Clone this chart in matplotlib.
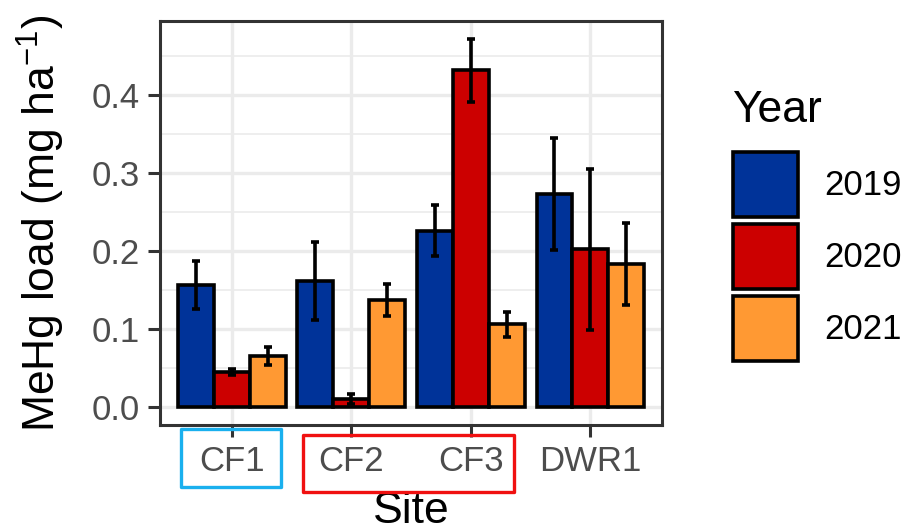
import matplotlib
matplotlib.use("Agg")
import matplotlib.pyplot as plt
import numpy as np
from matplotlib.patches import Patch, Rectangle

plt.rcParams['font.family'] = ['Liberation Sans', 'DejaVu Sans']
plt.rcParams['mathtext.fontset'] = 'custom'
plt.rcParams['mathtext.rm'] = 'Liberation Sans'
plt.rcParams['mathtext.it'] = 'Liberation Sans:italic'

sites = ['CF1', 'CF2', 'CF3', 'DWR1']
years = ['2019', '2020', '2021']
load_2019 = [0.156, 0.161, 0.226, 0.273]
load_2020 = [0.045, 0.010, 0.432, 0.202]
load_2021 = [0.065, 0.137, 0.106, 0.183]
se_2019 = [0.031, 0.050, 0.033, 0.072]
se_2020 = [0.004, 0.006, 0.041, 0.104]
se_2021 = [0.011, 0.021, 0.016, 0.053]
colors = ['#003399', '#CC0000', '#FF9933']

values = [load_2019, load_2020, load_2021]
errors = [se_2019, se_2020, se_2021]

fig = plt.figure(figsize=(9.14, 5.31), dpi=100)
ax = fig.add_axes([160/914, 1-425/531, 502/914, 404/531])

x = np.arange(1, len(sites)+1)
w = 0.3
for i, (vals, errs, c) in enumerate(zip(values, errors, colors)):
    pos = x + (i-1)*w
    ax.bar(pos, vals, width=w, color=c, edgecolor='black', linewidth=2.6, zorder=3)
    ax.errorbar(pos, vals, yerr=errs, fmt='none', ecolor='black', elinewidth=2.6,
                capsize=2.6, capthick=2.6, zorder=4)

ax.set_xlim(0.4, 4.6)
ax.set_ylim(-0.0236, 0.4956)
ax.set_xticks(x)
ax.set_xticklabels(sites)
ax.set_yticks([0.0, 0.1, 0.2, 0.3, 0.4])
ax.set_yticklabels(['0.0', '0.1', '0.2', '0.3', '0.4'])
ax.set_yticks([0.05, 0.15, 0.25, 0.35, 0.45], minor=True)
ax.grid(which='major', color='#EBEBEB', linewidth=2.4, zorder=0)
ax.grid(which='minor', axis='y', color='#EBEBEB', linewidth=1.2, zorder=0)
ax.set_axisbelow(True)
ax.tick_params(axis='both', which='major', length=8.5, width=2.2, color='#333333',
               labelcolor='#4D4D4D', labelsize=25, pad=6)
ax.tick_params(axis='y', which='minor', length=0)
for s in ax.spines.values():
    s.set_color('#333333')
    s.set_linewidth(2.2)

ax.set_xlabel('Site', fontsize=32, labelpad=9)
ax.set_ylabel('MeHg load (mg ha$^{-1}$)', fontsize=32, labelpad=18)

fig.text(732/914, 1-122/531, 'Year', fontsize=32, ha='left', va='baseline')
handles = [Patch(facecolor=c, edgecolor='black', linewidth=2.6) for c in colors]
leg = fig.legend(handles, years, loc='upper left', bbox_to_anchor=(733/914, 1-152/531),
                 frameon=False, fontsize=25,
                 handlelength=1.87, handleheight=2.5, labelspacing=0.2,
                 handletextpad=0.75, borderaxespad=0, borderpad=0)

# annotation boxes
fig.patches.append(Rectangle((181/914, 1-487/531), 100/914, 58/531, transform=fig.transFigure,
                             fill=False, edgecolor='#1AB0EE', linewidth=2.4, joinstyle='round'))
fig.patches.append(Rectangle((303/914, 1-492/531), 211/914, 57/531, transform=fig.transFigure,
                             fill=False, edgecolor='#F01010', linewidth=2.4, joinstyle='round'))

fig.savefig('out.png', dpi=100)
